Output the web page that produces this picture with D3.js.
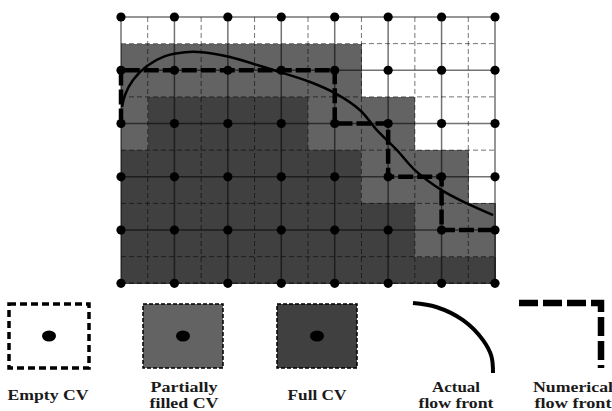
<!DOCTYPE html>
<html>
<head>
<meta charset="utf-8">
<script src="https://cdn.jsdelivr.net/npm/d3@7"></script>
<style>
  html, body { margin: 0; padding: 0; background: #fff; }
  svg { display: block; }
  text { font-family: "Liberation Serif", serif; font-weight: bold; fill: #1a1a1a; text-anchor: middle; }
</style>
</head>
<body>
<svg id="chart" width="612" height="411"></svg>
<script>
// grid units are half a node spacing: 14 columns, 10 rows
const nCols = 14;
const nRows = 10;

// state of each CV, row by row: E empty, P partially filled, F full
const cvRows = [
  "EEEEEEEEEEEEEE",
  "PPPPPPPPPEEEEE",
  "PPPPPPPPPEEEEE",
  "PFFFFFFPPPPEEE",
  "PFFFFFFPPPPEEE",
  "FFFFFFFFFPPPPE",
  "FFFFFFFFFPPPPE",
  "FFFFFFFFFFFPPP",
  "FFFFFFFFFFFPPP",
  "FFFFFFFFFFFFFF"
];

// numerical flow front, in grid units
const numericalX = [0, 0, 8, 8, 10, 10, 12, 12, 14];
const numericalY = [4, 2, 2, 4, 4, 6, 6, 8, 8];

// actual flow front, in grid units
const actualX = [0.04, 0.15, 0.45, 0.97, 1.65, 2.4, 3.14, 4.08, 5.69, 7.08, 8.01, 8.95, 9.58, 10.33, 11.0, 12.0, 12.95, 13.93];
const actualY = [3.38, 2.93, 2.37, 1.84, 1.47, 1.32, 1.33, 1.5, 1.99, 2.44, 2.86, 3.5, 4.25, 5.0, 5.75, 6.5, 7.0, 7.44];

// legend
const legendCells = ["E", "P", "F"];
const legendLabels = [
  { lines: ["Empty CV"], widths: [81] },
  { lines: ["Partially", "filled CV"], widths: [67, 69] },
  { lines: ["Full CV"], widths: [59] },
  { lines: ["Actual", "flow front"], widths: [48, 75] },
  { lines: ["Numerical", "flow front"], widths: [80, 77] }
];
const legendCurveX = [0, 0.29, 0.625, 0.875, 0.98, 1];
const legendCurveY = [0, 0.057, 0.245, 0.53, 0.76, 1];
const legendStepX = [0, 1, 1];
const legendStepY = [0, 0, 1];

const colors = { E: "#fff", P: "#636363", F: "#404040" };

const svg = d3.select("#chart");

const x = d3.scaleLinear().domain([0, nCols]).range([121, 495]);
const y = d3.scaleLinear().domain([0, nRows]).range([17, 283.3]);

// CV cells
const cells = cvRows.flatMap((row, r) => Array.from(row, (state, c) => ({ r, c, state })));

svg.append("g")
  .attr("shape-rendering", "crispEdges")
  .selectAll("rect")
  .data(cells.filter(d => d.state !== "E"))
  .enter().append("rect")
  .attr("x", d => x(d.c))
  .attr("y", d => y(d.r))
  .attr("width", d => x(d.c + 1) - x(d.c) + 0.5)
  .attr("height", d => y(d.r + 1) - y(d.r) + 0.5)
  .attr("fill", d => colors[d.state]);

// grid lines: even index solid, odd index dashed
const lines = svg.append("g")
  .attr("stroke", "#000")
  .attr("stroke-opacity", 0.55);

lines.selectAll(".v")
  .data(d3.range(nCols + 1))
  .enter().append("line")
  .attr("x1", d => x(d)).attr("x2", d => x(d))
  .attr("y1", y(0)).attr("y2", y(nRows))
  .attr("stroke-width", d => d % 2 ? 1 : 1.5)
  .attr("stroke-dasharray", d => d % 2 ? "5 3" : null);

lines.selectAll(".h")
  .data(d3.range(nRows + 1))
  .enter().append("line")
  .attr("x1", x(0)).attr("x2", x(nCols))
  .attr("y1", d => y(d)).attr("y2", d => y(d))
  .attr("stroke-width", d => d % 2 ? 1 : 1.5)
  .attr("stroke-dasharray", d => d % 2 || d === nRows ? "5 3" : null);

// nodes
const nodes = [];
d3.range(0, nRows + 1, 2).forEach(r => d3.range(0, nCols + 1, 2).forEach(c => nodes.push({ r, c })));
svg.append("g").selectAll("circle")
  .data(nodes)
  .enter().append("circle")
  .attr("cx", d => x(d.c))
  .attr("cy", d => y(d.r))
  .attr("r", 4.6)
  .attr("fill", "#000");

// flow fronts
const gridLine = d3.line().x(d => x(d[0])).y(d => y(d[1]));

svg.append("path")
  .attr("d", gridLine(numericalX.map((v, i) => [v, numericalY[i]])))
  .attr("fill", "none")
  .attr("stroke", "#000")
  .attr("stroke-width", 4.5)
  .attr("stroke-dasharray", "15 4");

svg.append("path")
  .attr("d", gridLine.curve(d3.curveCatmullRom)(actualX.map((v, i) => [v, actualY[i]])))
  .attr("fill", "none")
  .attr("stroke", "#000")
  .attr("stroke-width", 2.5);

// legend boxes
const legX = d3.scalePoint().domain(legendCells).range([49, 317]);

const box = svg.append("g").selectAll("g")
  .data(legendCells)
  .enter().append("g")
  .attr("transform", d => `translate(${legX(d)},336)`);

box.append("rect")
  .attr("x", -40).attr("y", -32)
  .attr("width", 80).attr("height", 64)
  .attr("fill", d => colors[d])
  .attr("stroke", "#000")
  .attr("stroke-width", d => d === "E" ? 3.5 : 1.5)
  .attr("stroke-dasharray", d => d === "E" ? "7 4" : "4 2");

box.append("ellipse")
  .attr("rx", 7).attr("ry", 5.5)
  .attr("fill", "#000");

// legend front samples
const curveXs = d3.scaleLinear().domain([0, 1]).range([413, 493]);
const curveYs = d3.scaleLinear().domain([0, 1]).range([303, 373]);
svg.append("path")
  .attr("d", d3.line().x(d => curveXs(d[0])).y(d => curveYs(d[1])).curve(d3.curveCatmullRom)(legendCurveX.map((v, i) => [v, legendCurveY[i]])))
  .attr("fill", "none")
  .attr("stroke", "#000")
  .attr("stroke-width", 4);

const stepXs = d3.scaleLinear().domain([0, 1]).range([519, 601]);
const stepYs = d3.scaleLinear().domain([0, 1]).range([303, 368]);
svg.append("path")
  .attr("d", d3.line().x(d => stepXs(d[0])).y(d => stepYs(d[1]))(legendStepX.map((v, i) => [v, legendStepY[i]])))
  .attr("fill", "none")
  .attr("stroke", "#000")
  .attr("stroke-width", 6.5)
  .attr("stroke-dasharray", "19 5");

// legend labels
const labelX = [48, 184, 317, 456, 573];
const labels = svg.append("g").selectAll("g")
  .data(legendLabels)
  .enter().append("g");

labels.each(function(d, i) {
  const two = d.lines.length === 2;
  d3.select(this).selectAll("text")
    .data(d.lines)
    .enter().append("text")
    .attr("x", labelX[i])
    .attr("y", (_, j) => two ? 391.5 + j * 16.5 : 400)
    .attr("font-size", 15)
    .attr("textLength", (_, j) => d.widths[j])
    .attr("lengthAdjust", "spacingAndGlyphs")
    .text(t => t);
});
</script>
</body>
</html>
